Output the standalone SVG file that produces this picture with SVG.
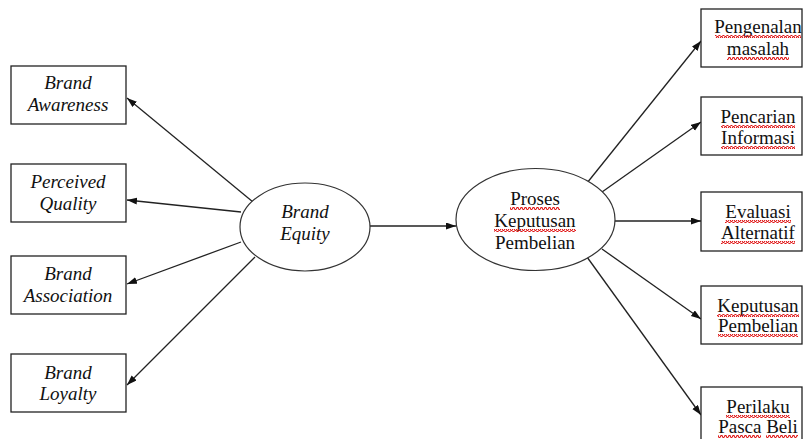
<svg xmlns="http://www.w3.org/2000/svg" width="804" height="439" viewBox="0 0 804 439">
<style>
.box{fill:#fff;stroke:#222;stroke-width:1.3}
.ell{fill:#fff;stroke:#333;stroke-width:1.2}
.it{font-family:"Liberation Serif","Times New Roman",serif;font-style:italic;font-size:19px;fill:#111;text-anchor:middle}
.up{font-family:"Liberation Serif","Times New Roman",serif;font-size:19px;fill:#111;text-anchor:middle}
.conn line{stroke:#222;stroke-width:1.3;marker-end:url(#arr)}
.wv{fill:url(#wave)}
</style>
<defs>
<marker id="arr" markerUnits="userSpaceOnUse" markerWidth="11" markerHeight="8" refX="10" refY="3.5" orient="auto">
<path d="M0,0 L10,3.5 L0,7 z" fill="#111"/>
</marker>
<pattern id="wave" patternUnits="userSpaceOnUse" width="4" height="3">
<path d="M0,2.5 L1,0.5 L2,0.5 L3,2.5 L4,2.5" fill="none" stroke="#e01818" stroke-width="1.1"/>
</pattern>
</defs>
<rect width="804" height="439" fill="#fff"/>

<g id="connectors" class="conn">
<line x1="253" y1="202" x2="127" y2="98"/>
<line x1="241" y1="212" x2="127" y2="200"/>
<line x1="241" y1="242" x2="127" y2="284"/>
<line x1="255" y1="257" x2="127" y2="385"/>
<line x1="370" y1="226" x2="456" y2="226"/>
<line x1="587" y1="183" x2="701" y2="41"/>
<line x1="602" y1="192" x2="701" y2="122"/>
<line x1="615" y1="221" x2="701" y2="221"/>
<line x1="602" y1="249" x2="701" y2="319"/>
<line x1="587" y1="257" x2="701" y2="415"/>
</g>

<g id="brand-awareness">
<rect class="box" x="11" y="66" width="115" height="58"/>
<text class="it" x="68" y="89">Brand</text>
<text class="it" x="68" y="111">Awareness</text>
</g>
<g id="perceived-quality">
<rect class="box" x="11" y="164" width="115" height="58"/>
<text class="it" x="68" y="188">Perceived</text>
<text class="it" x="68" y="210">Quality</text>
</g>
<g id="brand-association">
<rect class="box" x="11" y="256" width="115" height="58"/>
<text class="it" x="68" y="280">Brand</text>
<text class="it" x="68" y="302">Association</text>
</g>
<g id="brand-loyalty">
<rect class="box" x="11" y="354" width="115" height="58"/>
<text class="it" x="68" y="379">Brand</text>
<text class="it" x="68" y="400">Loyalty</text>
</g>

<g id="brand-equity">
<ellipse class="ell" cx="305" cy="227" rx="65" ry="44"/>
<text class="it" x="305" y="218">Brand</text>
<text class="it" x="305" y="240">Equity</text>
</g>

<g id="proses-keputusan">
<ellipse class="ell" cx="535.5" cy="219.5" rx="79.5" ry="51"/>
<text class="up" x="535" y="205">Proses</text>
<text class="up" x="535" y="227">Keputusan</text>
<text class="up" x="535" y="249">Pembelian</text>
<rect class="wv" x="510" y="207" width="50" height="3"/>
<rect class="wv" x="494" y="229" width="82" height="3"/>
</g>

<g id="pengenalan-masalah">
<rect class="box" x="701" y="9" width="101" height="58"/>
<text class="up" x="758" y="33">Pengenalan</text>
<text class="up" x="758" y="55">masalah</text>
<rect class="wv" x="715" y="35" width="86" height="3"/>
<rect class="wv" x="727" y="57" width="62" height="3"/>
</g>
<g id="pencarian-informasi">
<rect class="box" x="701" y="97" width="101" height="58"/>
<text class="up" x="758" y="123">Pencarian</text>
<text class="up" x="758" y="144">Informasi</text>
<rect class="wv" x="721" y="125" width="74" height="3"/>
<rect class="wv" x="721" y="146" width="74" height="3"/>
</g>
<g id="evaluasi-alternatif">
<rect class="box" x="701" y="192" width="101" height="59"/>
<text class="up" x="758" y="218">Evaluasi</text>
<text class="up" x="758" y="239">Alternatif</text>
<rect class="wv" x="725" y="220" width="66" height="3"/>
<rect class="wv" x="721" y="241" width="74" height="3"/>
</g>
<g id="keputusan-pembelian">
<rect class="box" x="701" y="286" width="101" height="58"/>
<text class="up" x="758" y="312">Keputusan</text>
<text class="up" x="758" y="332">Pembelian</text>
<rect class="wv" x="717" y="314" width="82" height="3"/>
<rect class="wv" x="718" y="334" width="80" height="3"/>
</g>
<g id="perilaku-pasca-beli">
<rect class="box" x="701" y="387" width="101" height="60"/>
<text class="up" x="758" y="413">Perilaku</text>
<text class="up" x="758" y="433">Pasca Beli</text>
<rect class="wv" x="726" y="415" width="64" height="3"/>
<rect class="wv" x="718" y="435" width="43" height="3"/>
<rect class="wv" x="766" y="435" width="32" height="3"/>
</g>
</svg>
